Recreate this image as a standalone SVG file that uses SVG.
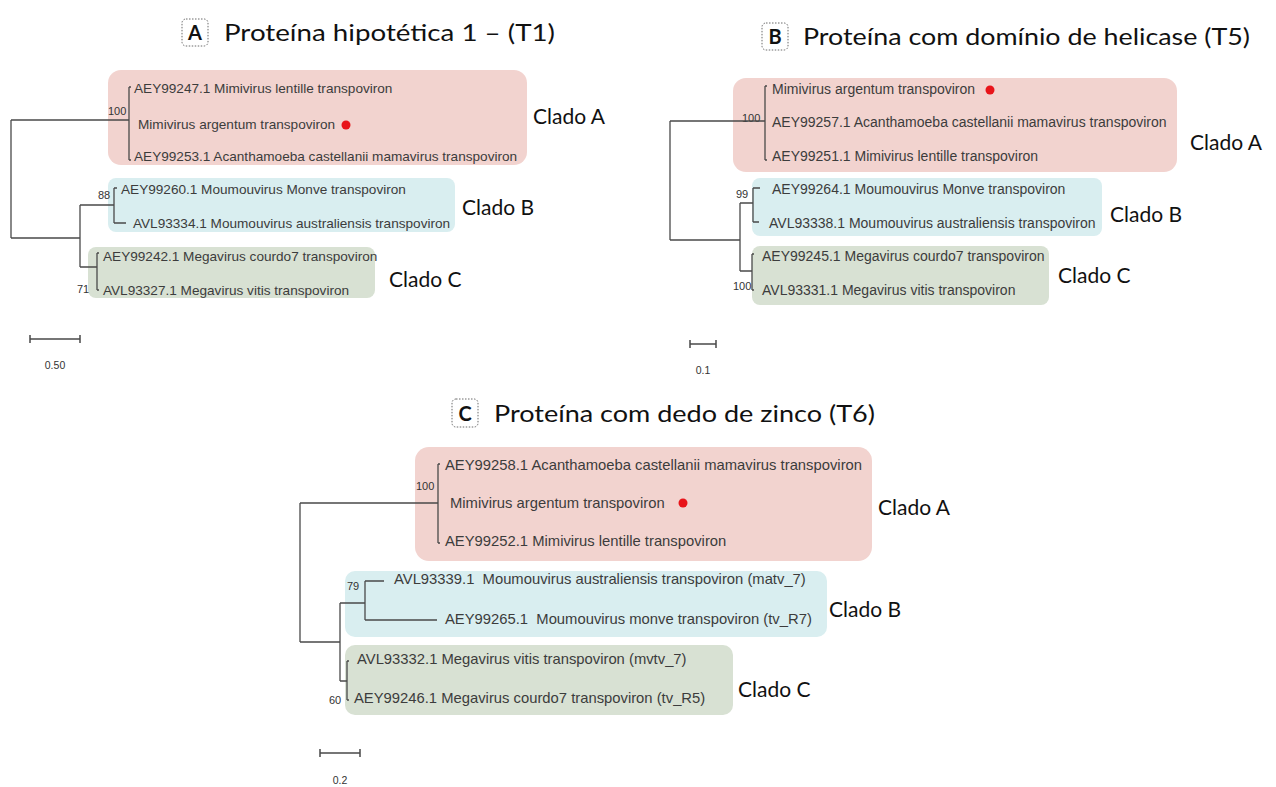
<svg xmlns="http://www.w3.org/2000/svg" width="1276" height="787" viewBox="0 0 1276 787">
<style>
.bg{fill:#ffffff}
.pink{fill:#f2d3cf}
.blue{fill:#d9eef0}
.green{fill:#d8e1d3}
.br{stroke:#4a4a4a;stroke-width:1.3;fill:none}
.sb{stroke:#4a4a4a;stroke-width:1.5;fill:none}
.tip{font-family:"Liberation Sans",Arial,sans-serif;fill:#3c3c3c;white-space:pre}
.a{font-size:13.6px}
.b{font-size:14px}
.c{font-size:14.8px}
.bs{font-family:"Liberation Sans",Arial,sans-serif;font-size:11px;fill:#333}
.sc{font-family:"Liberation Sans",Arial,sans-serif;font-size:10.5px;fill:#333;text-anchor:middle}
.clado{font-family:Lato,"Open Sans",sans-serif;font-size:21px;fill:#111}
.title{font-family:Lato,"Open Sans",sans-serif;font-size:24px;fill:#111}
.lbox{fill:#fff;stroke:#6a6a6a;stroke-width:1;stroke-dasharray:1.5 1.5}
.let{font-family:Lato,"Open Sans",sans-serif;font-size:20px;font-weight:700;fill:#111;text-anchor:middle}
.dot{fill:#e8141a}
</style>
<rect class="bg" x="0" y="0" width="1276" height="787"/>

<!-- Tree A -->
<g id="panelA">
  <g id="titleA">
    <rect class="lbox" x="182" y="19" width="26" height="27" rx="4"/>
    <text class="let" x="195" y="40">A</text>
    <text class="title" x="224" y="41" textLength="331" lengthAdjust="spacingAndGlyphs">Proteína hipotética 1 –  (T1)</text>
  </g>
  <g id="A_cladeA">
    <rect class="pink" x="108" y="70" width="419" height="95" rx="13"/>
    <text class="tip a" x="134" y="93">AEY99247.1 Mimivirus lentille transpoviron</text>
    <text class="tip a" x="138" y="129">Mimivirus argentum transpoviron</text>
    <circle class="dot" cx="346" cy="125" r="4.5"/>
    <text class="tip a" x="134" y="161">AEY99253.1 Acanthamoeba castellanii mamavirus transpoviron</text>
    <text class="bs" x="108" y="115">100</text>
    <text class="clado" x="533" y="124">Clado A</text>
  </g>
  <g id="A_cladeB">
    <rect class="blue" x="108" y="178" width="347" height="54" rx="8"/>
    <text class="tip a" x="121" y="194">AEY99260.1 Moumouvirus Monve transpoviron</text>
    <text class="tip a" x="133" y="228">AVL93334.1 Moumouvirus australiensis transpoviron</text>
    <text class="bs" x="98" y="199">88</text>
    <text class="clado" x="462" y="215">Clado B</text>
  </g>
  <g id="A_cladeC">
    <rect class="green" x="88" y="247" width="287" height="51" rx="8"/>
    <text class="tip a" x="103" y="261">AEY99242.1 Megavirus courdo7 transpoviron</text>
    <text class="tip a" x="103" y="295">AVL93327.1 Megavirus vitis transpoviron</text>
    <text class="bs" x="77" y="293">71</text>
    <text class="clado" x="389" y="287">Clado C</text>
  </g>
  <g id="A_scale">
    <path class="sb" d="M30,339H80M30,335V343M80,335V343"/>
    <text class="sc" x="55" y="369">0.50</text>
  </g>
</g>

<!-- Tree B -->
<g id="panelB">
  <g id="titleB">
    <rect class="lbox" x="762" y="23" width="26" height="27" rx="4"/>
    <text class="let" x="775" y="44">B</text>
    <text class="title" x="803" y="45" textLength="447" lengthAdjust="spacingAndGlyphs">Proteína com domínio de helicase (T5)</text>
  </g>
  <g id="B_cladeA">
    <rect class="pink" x="733" y="78" width="444" height="94" rx="13"/>
    <text class="tip b" x="772" y="94">Mimivirus argentum transpoviron</text>
    <circle class="dot" cx="990" cy="90" r="4.5"/>
    <text class="tip b" x="772" y="127">AEY99257.1 Acanthamoeba castellanii mamavirus transpoviron</text>
    <text class="tip b" x="772" y="161">AEY99251.1 Mimivirus lentille transpoviron</text>
    <text class="bs" x="742" y="122">100</text>
    <text class="clado" x="1190" y="150">Clado A</text>
  </g>
  <g id="B_cladeB">
    <rect class="blue" x="752" y="178" width="350" height="58" rx="8"/>
    <text class="tip b" x="772" y="194">AEY99264.1 Moumouvirus Monve transpoviron</text>
    <text class="tip b" x="769" y="228">AVL93338.1 Moumouvirus australiensis transpoviron</text>
    <text class="bs" x="736" y="198">99</text>
    <text class="clado" x="1110" y="222">Clado B</text>
  </g>
  <g id="B_cladeC">
    <rect class="green" x="752" y="246" width="297" height="59" rx="8"/>
    <text class="tip b" x="762" y="261">AEY99245.1 Megavirus courdo7 transpoviron</text>
    <text class="tip b" x="762" y="295">AVL93331.1 Megavirus vitis transpoviron</text>
    <text class="bs" x="733" y="290">100</text>
    <text class="clado" x="1058" y="283">Clado C</text>
  </g>
  <g id="B_scale">
    <path class="sb" d="M690,344H716M690,340V348M716,340V348"/>
    <text class="sc" x="703" y="374">0.1</text>
  </g>
</g>

<!-- Tree C -->
<g id="panelC">
  <g id="titleC">
    <rect class="lbox" x="452" y="399" width="26" height="28" rx="4"/>
    <text class="let" x="465" y="421">C</text>
    <text class="title" x="494" y="422" textLength="381" lengthAdjust="spacingAndGlyphs">Proteína com dedo de zinco (T6)</text>
  </g>
  <g id="C_cladeA">
    <rect class="pink" x="415" y="447" width="457" height="114" rx="14"/>
    <text class="tip c" x="445" y="470">AEY99258.1 Acanthamoeba castellanii mamavirus transpoviron</text>
    <text class="tip c" x="450" y="508">Mimivirus argentum transpoviron</text>
    <circle class="dot" cx="683" cy="503" r="4.5"/>
    <text class="tip c" x="445" y="546">AEY99252.1 Mimivirus lentille transpoviron</text>
    <text class="bs" x="416" y="490">100</text>
    <text class="clado" x="878" y="515">Clado A</text>
  </g>
  <g id="C_cladeB">
    <rect class="blue" x="345" y="571" width="482" height="66" rx="10"/>
    <text class="tip c" x="394" y="584">AVL93339.1  Moumouvirus australiensis transpoviron (matv_7)</text>
    <text class="tip c" x="445" y="624">AEY99265.1  Moumouvirus monve transpoviron (tv_R7)</text>
    <text class="bs" x="347" y="590">79</text>
    <text class="clado" x="829" y="617">Clado B</text>
  </g>
  <g id="C_cladeC">
    <rect class="green" x="345" y="645" width="388" height="70" rx="10"/>
    <text class="tip c" x="357" y="664">AVL93332.1 Megavirus vitis transpoviron (mvtv_7)</text>
    <text class="tip c" x="354" y="703">AEY99246.1 Megavirus courdo7 transpoviron (tv_R5)</text>
    <text class="bs" x="329" y="704">60</text>
    <text class="clado" x="738" y="697">Clado C</text>
  </g>
  <g id="C_scale">
    <path class="sb" d="M320,753H360M320,749V757M360,749V757"/>
    <text class="sc" x="340" y="784">0.2</text>
  </g>
</g>

<!-- Connectors (tree branches) -->
<g id="connectors">
  <path class="br" d="M11,120V238M11,120H129M129,87V160M129,87H131M129,160H131M11,238H80M80,205V267M80,205H114M114,188V223M114,188H117M114,223H126M80,267H97M97,253V290M97,253H99M97,290H99"/>
  <path class="br" d="M670,121V240M670,121H765M765,86V160M765,86H767M765,160H767M670,240H740M740,203V271M740,203H753M753,188V222M753,188H760M753,222H759M740,271H752M752,254V290M752,254H754M752,290H754"/>
  <path class="br" d="M300,503V642M300,503H438M438,464V543M438,464H440M438,543H440M300,642H340M340,603V681M340,603H365M365,581V620M365,581H384M365,620H437M340,681H347M347,661V700M347,661H349M347,700H349"/>
</g>
</svg>
